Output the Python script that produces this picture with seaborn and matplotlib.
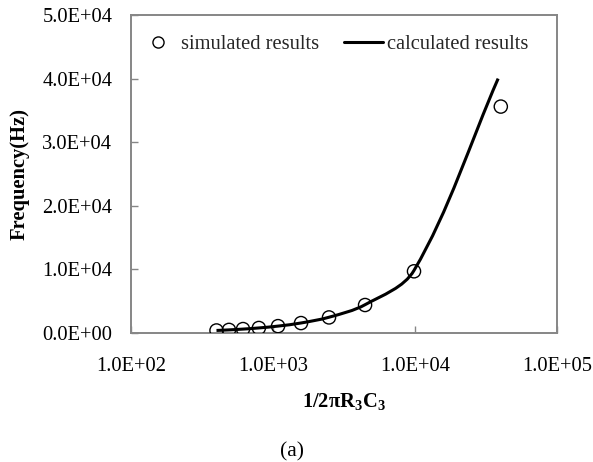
import matplotlib
matplotlib.use('Agg')
import numpy as np
import pandas as pd
import seaborn as sns
import matplotlib.pyplot as plt
from matplotlib.path import Path
from matplotlib.patches import PathPatch
from matplotlib.lines import Line2D
from matplotlib.ticker import FuncFormatter, FixedLocator, NullLocator

# ---- data ----
sim_x = [400, 490, 615, 795, 1085, 1575, 2480, 4450, 9840, 40200]
sim_y = [400, 490, 620, 790, 1080, 1560, 2450, 4400, 9700, 35600]
calc_x = [400, 490, 615, 795, 1085, 1575, 2480, 4450, 9840, 38500]
calc_y = [400, 490, 615, 795, 1085, 1575, 2480, 4450, 9840, 40000]
x_ticks = [1e2, 1e3, 1e4, 1e5]
y_ticks = [0, 1e4, 2e4, 3e4, 4e4, 5e4]
legend_labels = ['simulated results', 'calculated results']
x_label = '1/2\u03c0R$_3$C$_3$'
y_label = 'Frequency(Hz)'
caption = '(a)'

sns.set_theme(style='white')
plt.rcParams['font.family'] = ['Liberation Serif', 'DejaVu Serif']
plt.rcParams['mathtext.fontset'] = 'custom'
plt.rcParams['mathtext.rm'] = 'Liberation Serif:bold'
plt.rcParams['mathtext.it'] = 'Liberation Serif:bold'
plt.rcParams['mathtext.bf'] = 'Liberation Serif:bold'
plt.rcParams['mathtext.default'] = 'rm'

FS = 14.8
W, H = 593, 462
fig = plt.figure(figsize=(W / 100, H / 100), dpi=100)
fig.patch.set_facecolor('white')
ax = fig.add_axes([131 / W, 1 - 333 / H, 426 / W, 318 / H])
ax.set_facecolor('white')
ax.set_xscale('log')
ax.set_xlim(1e2, 1e5)
ax.set_ylim(0, 5e4)

# smoothed calculated line: Bezier segments through the data points, with
# tangents computed in a display-like space (Excel "smoothed line" look)
sx = 426 / 3.0            # px per decade
sy = 318 / 5e4            # px per unit
P = np.column_stack([np.log10(np.array(calc_x, float)) * sx, np.array(calc_y, float) * sy])
n = len(P)
T = np.zeros_like(P)
for i in range(n):
    a = P[max(i - 1, 0)]
    b = P[min(i + 1, n - 1)]
    d = b - a
    T[i] = d / np.linalg.norm(d)
def to_data(q):
    return (10 ** (q[0] / sx), q[1] / sy)
verts = [(calc_x[0], calc_y[0])]
codes = [Path.MOVETO]
for i in range(n - 1):
    L = np.linalg.norm(P[i + 1] - P[i])
    c1 = P[i] + T[i] * L / 3
    c2 = P[i + 1] - T[i + 1] * L / 3
    verts += [to_data(c1), to_data(c2), (calc_x[i + 1], calc_y[i + 1])]
    codes += [Path.CURVE4, Path.CURVE4, Path.CURVE4]
patch = PathPatch(Path(verts, codes), facecolor='none', edgecolor='black', lw=2.2,
                  capstyle='butt', joinstyle='round', zorder=2)
ax.add_patch(patch)

df = pd.DataFrame({'x': sim_x, 'y': sim_y})
sns.scatterplot(data=df, x='x', y='y', ax=ax, marker='o', s=90,
                facecolors='none', edgecolor='black', linewidth=1.0, zorder=3)

ax.set_xlim(1e2, 1e5)
ax.set_ylim(0, 5e4)
ax.xaxis.set_major_locator(FixedLocator(x_ticks))
ax.xaxis.set_minor_locator(NullLocator())
ax.yaxis.set_major_locator(FixedLocator(y_ticks))
fmt = FuncFormatter(lambda val, pos: f'{val:.1E}')
ax.xaxis.set_major_formatter(fmt)
ax.yaxis.set_major_formatter(fmt)

spine_c = '#868686'
for s in ax.spines.values():
    s.set_visible(True)
    s.set_color(spine_c)
    s.set_linewidth(1.4)
ax.tick_params(axis='x', which='major', direction='in', length=5, width=1, color=spine_c,
               bottom=True, top=False, labelsize=FS, pad=17, labelcolor='black')
ax.tick_params(axis='y', which='major', direction='in', length=5, width=1, color=spine_c,
               left=True, right=False, labelsize=FS, pad=13.5, labelcolor='black')
ax.grid(False)

ax.set_xlabel(x_label, fontsize=FS, fontweight='bold', color='black')
ax.set_ylabel(y_label, fontsize=FS, fontweight='bold', color='black')
ax.xaxis.label.set_va('center')
ax.yaxis.label.set_va('center')
ax.xaxis.set_label_coords(0.5, -(402 - 333) / 318)
ax.yaxis.set_label_coords(-(131 - 20) / 426, 0.5)

handles = [Line2D([], [], marker='o', ls='none', mfc='none', mec='black', mew=1.0, ms=8),
           Line2D([], [], color='black', lw=2.2)]
ax.legend(handles, legend_labels, ncol=2, frameon=False, loc='upper left',
          bbox_to_anchor=(138 / W, 1 - 35 / H), bbox_transform=fig.transFigure,
          borderpad=0, borderaxespad=0, handlelength=1.9, handletextpad=0.2,
          columnspacing=1.2, fontsize=FS)

fig.text(292 / W, 1 - 452 / H, caption, ha='center', va='center', fontsize=15.5, color='black')

fig.savefig('out.png', dpi=100)
